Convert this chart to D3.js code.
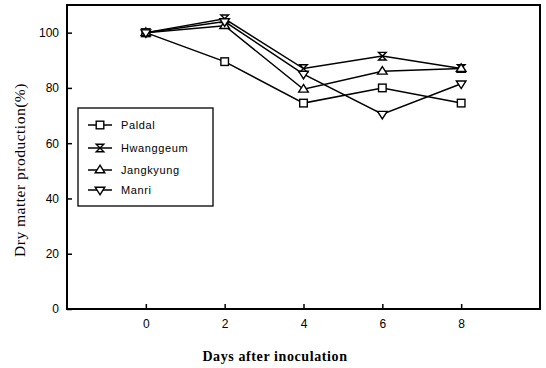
<!DOCTYPE html>
<html><head><meta charset="utf-8">
<script src="https://cdn.jsdelivr.net/npm/d3@7"></script>
<style>body{margin:0;background:#fff}</style>
</head><body>
<svg id="c" width="546" height="368"></svg>
<script>
const days = [0, 2, 4, 6, 8];
const seriesNames = ["Paldal", "Hwanggeum", "Jangkyung", "Manri"];
const paldal = [100, 89.5, 74.5, 80, 74.5];
const hwanggeum = [100, 105, 87, 91.5, 87];
const jangkyung = [100, 102.5, 79.5, 86, 87];
const manri = [100, 104, 85, 70.5, 81.5];
const xTicks = [0, 2, 4, 6, 8];
const yTicks = [0, 20, 40, 60, 80, 100];

const svg = d3.select("#c");
const L = 67, R = 540, T = 5, B = 309;
const x = d3.scaleLinear().domain([-2, 10]).range([L, R]);
const y = d3.scaleLinear().domain([0, 110]).range([B, T]);

svg.append("rect").attr("x", L).attr("y", T).attr("width", R - L).attr("height", B - T)
  .attr("fill", "none").attr("stroke", "#000").attr("stroke-width", 2);

const sans = "'Liberation Sans', Arial, sans-serif";
const serif = "'Liberation Serif', 'DejaVu Serif', serif";

const xAxis = svg.append("g").attr("transform", `translate(0,${B})`)
  .call(d3.axisBottom(x).tickValues(xTicks).tickSize(-5).tickPadding(10));
xAxis.select(".domain").remove();
xAxis.selectAll("text").attr("font-family", sans).attr("font-size", 12).attr("fill", "#000");
xAxis.selectAll("line").attr("stroke-width", 1.5);

const yAxis = svg.append("g").attr("transform", `translate(${L},0)`)
  .call(d3.axisLeft(y).tickValues(yTicks).tickSize(-5).tickPadding(8));
yAxis.select(".domain").remove();
yAxis.selectAll("text").attr("font-family", sans).attr("font-size", 12).attr("fill", "#000");
yAxis.selectAll("line").attr("stroke-width", 1.5);

svg.append("text").attr("x", 275).attr("y", 361).attr("text-anchor", "middle")
  .attr("font-family", serif).attr("font-weight", "bold").attr("font-size", 14)
  .attr("letter-spacing", 0.6)
  .text("Days after inoculation");
svg.append("text").attr("transform", "translate(25,170) rotate(-90)").attr("text-anchor", "middle")
  .attr("font-family", serif).attr("font-size", 15.5)
  .attr("letter-spacing", 0.5)
  .text("Dry matter production(%)");

function marker(g, type, cx, cy) {
  const s = 3.8;
  const st = (p) => p.attr("fill", "#fff").attr("stroke", "#000").attr("stroke-width", 1.4);
  if (type === 0) {
    st(g.append("rect").attr("x", cx - s).attr("y", cy - s).attr("width", 2 * s).attr("height", 2 * s));
  } else if (type === 1) {
    st(g.append("path").attr("d", `M${cx - s},${cy - s}L${cx + s},${cy - s}L${cx - s},${cy + s}L${cx + s},${cy + s}Z`));
  } else if (type === 2) {
    st(g.append("path").attr("d", `M${cx},${cy - s - 1}L${cx + s + 1},${cy + s - 1}L${cx - s - 1},${cy + s - 1}Z`));
  } else {
    st(g.append("path").attr("d", `M${cx},${cy + s + 1}L${cx + s + 1},${cy - s + 1}L${cx - s - 1},${cy - s + 1}Z`));
  }
}

const all = [paldal, hwanggeum, jangkyung, manri];
const line = d3.line().x((d, i) => x(days[i])).y(d => y(d));
all.forEach((vals) => {
  svg.append("path").datum(vals).attr("d", line).attr("fill", "none")
    .attr("stroke", "#000").attr("stroke-width", 1.5);
});
all.forEach((vals, k) => {
  const g = svg.append("g");
  vals.forEach((v, i) => marker(g, k, x(days[i]), y(v)));
});

const lg = svg.append("g");
lg.append("rect").attr("x", 78).attr("y", 108).attr("width", 135).attr("height", 98)
  .attr("fill", "#fff").attr("stroke", "#000").attr("stroke-width", 1.3);
const ly = [125, 148, 170, 190];
seriesNames.forEach((n, k) => {
  lg.append("line").attr("x1", 88).attr("x2", 112).attr("y1", ly[k]).attr("y2", ly[k])
    .attr("stroke", "#000").attr("stroke-width", 1.5);
  marker(lg, k, 100, ly[k]);
  lg.append("text").attr("x", 121).attr("y", ly[k] + 4).attr("font-family", sans)
    .attr("font-size", 11).attr("letter-spacing", 0.6).text(n);
});
</script>
</body></html>
